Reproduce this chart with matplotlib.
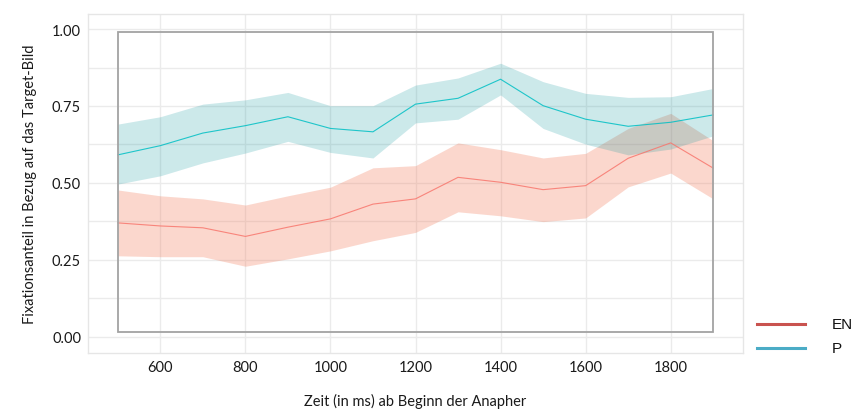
import numpy as np
import matplotlib
matplotlib.use("Agg")
import matplotlib.pyplot as plt
from matplotlib.patches import Rectangle
from matplotlib.lines import Line2D

# Zeitpunkte (ms ab Beginn der Anapher)
zeit = [500, 600, 700, 800, 900, 1000, 1100, 1200, 1300, 1400, 1500, 1600, 1700, 1800, 1900]

# Gruppe EN
en_mittel = [0.370, 0.360, 0.354, 0.326, 0.356, 0.383, 0.431, 0.448, 0.518, 0.502, 0.478, 0.491, 0.580, 0.630, 0.548]
en_oben = [0.477, 0.458, 0.448, 0.428, 0.458, 0.486, 0.549, 0.556, 0.630, 0.608, 0.581, 0.596, 0.677, 0.726, 0.637]
en_unten = [0.263, 0.260, 0.260, 0.229, 0.253, 0.279, 0.312, 0.339, 0.406, 0.393, 0.374, 0.386, 0.487, 0.532, 0.448]

# Gruppe P
p_mittel = [0.591, 0.621, 0.662, 0.686, 0.715, 0.677, 0.666, 0.756, 0.775, 0.837, 0.751, 0.707, 0.684, 0.697, 0.721]
p_oben = [0.691, 0.715, 0.756, 0.770, 0.794, 0.751, 0.751, 0.818, 0.841, 0.889, 0.829, 0.791, 0.778, 0.780, 0.807]
p_unten = [0.496, 0.523, 0.565, 0.597, 0.635, 0.599, 0.581, 0.695, 0.707, 0.786, 0.677, 0.626, 0.591, 0.610, 0.653]

# Rahmen um den Analysebereich
rahmen_x = (500, 1900)
rahmen_y = (0.015, 0.99)

y_ticks = [0.00, 0.25, 0.50, 0.75, 1.00]
x_ticks = [600, 800, 1000, 1200, 1400, 1600, 1800]

fig = plt.figure(figsize=(8.55, 4.10), dpi=100)
ax = fig.add_axes([88 / 855, 1 - 354 / 410, 655 / 855, 339 / 410])

# Bänder und Linien
ax.fill_between(zeit, en_unten, en_oben, color="#f27d5c", alpha=0.3, linewidth=0, zorder=2)
ax.fill_between(zeit, p_unten, p_oben, color="#00919a", alpha=0.2, linewidth=0, zorder=3)
ax.plot(zeit, en_mittel, color="#F8766D", linewidth=0.8, alpha=0.85, zorder=4)
ax.plot(zeit, p_mittel, color="#00BFC4", linewidth=0.8, alpha=0.85, zorder=4)

ax.add_patch(Rectangle((rahmen_x[0], rahmen_y[0]), rahmen_x[1] - rahmen_x[0],
                       rahmen_y[1] - rahmen_y[0], fill=False,
                       edgecolor="#a3a3a3", linewidth=1.3, zorder=5))

ax.set_xlim(430, 1970)
ax.set_ylim(-0.053, 1.049)
ax.set_xticks(x_ticks)
ax.set_yticks(y_ticks)
ax.set_yticklabels(["%.2f" % v for v in y_ticks])

# Gitter
for v in np.arange(0, 1.001, 0.125):
    ax.axhline(v, color="#ebebeb", linewidth=1.0, zorder=0)
for v in x_ticks:
    ax.axvline(v, color="#ebebeb", linewidth=1.0, zorder=0)

for s in ax.spines.values():
    s.set_color("#e6e6e6")
    s.set_linewidth(1.0)
ax.tick_params(length=0, pad=5, labelsize=10.5, labelcolor="#1a1a1a")
for lab in ax.get_xticklabels() + ax.get_yticklabels():
    lab.set_family("Lato")

ax.set_xlabel("Zeit (in ms) ab Beginn der Anapher", family="Lato", fontsize=10.5,
              color="#1a1a1a", labelpad=14)
ax.set_ylabel("Fixationsanteil in Bezug auf das Target-Bild", family="Lato",
              fontsize=10.5, color="#1a1a1a", labelpad=11)

# Legende
fig.add_artist(Line2D([757 / 855, 805 / 855], [1 - 325 / 410] * 2, color="#c9534f", linewidth=2.2))
fig.add_artist(Line2D([757 / 855, 805 / 855], [1 - 349 / 410] * 2, color="#4bacc6", linewidth=2.2))
fig.text(832 / 855, 1 - 325 / 410, "EN", family="Liberation Sans", fontsize=11,
         va="center", ha="left", color="#111111")
fig.text(832 / 855, 1 - 349 / 410, "P", family="Liberation Sans", fontsize=11,
         va="center", ha="left", color="#111111")

fig.savefig("out.png", dpi=100)
